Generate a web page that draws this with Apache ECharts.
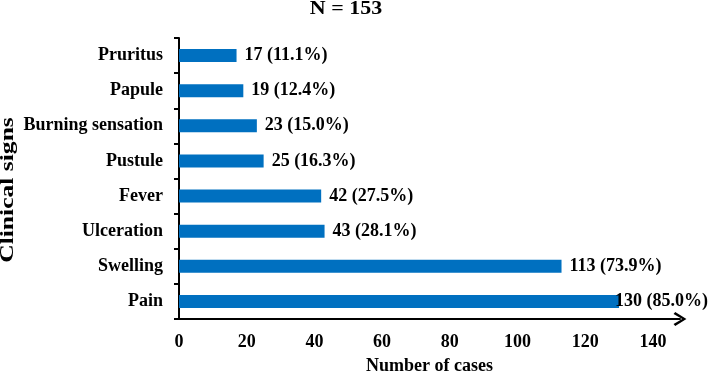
<!DOCTYPE html>
<html>
<head>
<meta charset="utf-8">
<script src="https://cdn.jsdelivr.net/npm/echarts@6/dist/echarts.min.js"></script>
<style>html,body{margin:0;padding:0;background:#fff}#c{width:708px;height:372px}</style>
</head>
<body>
<div id="c"></div>
<script>
const categories = ['Pain','Swelling','Ulceration','Fever','Pustule','Burning sensation','Papule','Pruritus'];
const counts = [130, 113, 43, 42, 25, 23, 19, 17];
const percents = ['85.0','73.9','28.1','27.5','16.3','15.0','12.4','11.1'];
const xTicks = [0, 20, 40, 60, 80, 100, 120, 140];

const font = '"Liberation Serif", "Times New Roman", serif';
const txt = {fontFamily: font, fontWeight: 'bold', fontSize: 18, color: '#000'};
const chart = echarts.init(document.getElementById('c'));
chart.setOption({
  animation: false,
  graphic: [
    {type: 'text', x: 346, y: 9, scaleX: 1.22,
     style: {text: 'N = 153', font: 'bold 18px ' + font, fill: '#000', textAlign: 'center', textVerticalAlign: 'middle'}},
    {type: 'text', x: 8, y: 190, rotation: Math.PI / 2, scaleX: 1.42,
     style: {text: 'Clinical signs', font: 'bold 18px ' + font, fill: '#000', textAlign: 'center', textVerticalAlign: 'middle'}}
  ],
  grid: {left: 179, top: 38, right: 28, bottom: 53, containLabel: false, outerBoundsMode: 'none'},
  xAxis: {
    type: 'value', min: 0, max: 148, interval: 20,
    name: 'Number of cases', nameLocation: 'middle', nameGap: 38,
    nameTextStyle: txt,
    axisLine: {show: true, symbol: ['none', 'path://M5,0 L10,8 L8.6,9.2 L5,3 L1.4,9.2 L0,8 Z'], symbolSize: [14, 14],
               lineStyle: {color: '#000', width: 2}},
    axisTick: {show: false},
    splitLine: {show: false},
    axisLabel: Object.assign({margin: 14, formatter: v => xTicks.includes(v) ? String(v) : ''}, txt)
  },
  yAxis: {
    type: 'category', data: categories,
    axisLine: {show: true, lineStyle: {color: '#000', width: 2}},
    axisTick: {show: true, length: 5, lineStyle: {color: '#000', width: 2}},
    axisLabel: Object.assign({margin: 16}, txt)
  },
  series: [{
    type: 'bar',
    data: counts.map((v, i) => i === 0 ? {value: v, label: {distance: -4}} : v),
    barWidth: 13,
    itemStyle: {color: '#0070C0'},
    label: Object.assign({
      show: true, position: 'right', distance: 8,
      formatter: p => p.value + ' (' + percents[p.dataIndex] + '%)'
    }, txt)
  }]
});
</script>
</body>
</html>
